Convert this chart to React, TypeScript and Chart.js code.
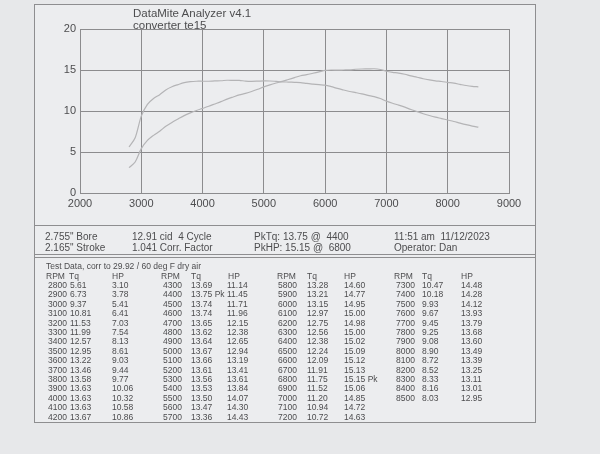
import React, { useEffect, useRef } from "react";
import { Chart, registerables } from "chart.js";

Chart.register(...registerables);

const rpm = [
  2800, 2900, 3000, 3100, 3200, 3300, 3400, 3500, 3600, 3700, 3800, 3900, 4000, 4100, 4200,
  4300, 4400, 4500, 4600, 4700, 4800, 4900, 5000, 5100, 5200, 5300, 5400, 5500, 5600, 5700,
  5800, 5900, 6000, 6100, 6200, 6300, 6400, 6500, 6600, 6700, 6800, 6900, 7000, 7100, 7200,
  7300, 7400, 7500, 7600, 7700, 7800, 7900, 8000, 8100, 8200, 8300, 8400, 8500,
];
const torque = [
  5.61, 6.73, 9.37, 10.81, 11.53, 11.99, 12.57, 12.95, 13.22, 13.46, 13.58, 13.63, 13.63, 13.63, 13.67,
  13.69, 13.75, 13.74, 13.74, 13.65, 13.62, 13.64, 13.67, 13.66, 13.61, 13.56, 13.53, 13.5, 13.47, 13.36,
  13.28, 13.21, 13.15, 12.97, 12.75, 12.56, 12.38, 12.24, 12.09, 11.91, 11.75, 11.52, 11.2, 10.94, 10.72,
  10.47, 10.18, 9.93, 9.67, 9.45, 9.25, 9.08, 8.9, 8.72, 8.52, 8.33, 8.16, 8.03,
];
const horsepower = [
  3.1, 3.78, 5.41, 6.41, 7.03, 7.54, 8.13, 8.61, 9.03, 9.44, 9.77, 10.06, 10.32, 10.58, 10.86,
  11.14, 11.45, 11.71, 11.96, 12.15, 12.38, 12.65, 12.94, 13.19, 13.41, 13.61, 13.84, 14.07, 14.3, 14.43,
  14.6, 14.77, 14.95, 15.0, 14.98, 15.0, 15.02, 15.09, 15.12, 15.13, 15.15, 15.06, 14.85, 14.72, 14.63,
  14.48, 14.28, 14.12, 13.93, 13.79, 13.68, 13.6, 13.49, 13.39, 13.25, 13.11, 13.01, 12.95,
];
const xTicks = [2000, 3000, 4000, 5000, 6000, 7000, 8000, 9000];
const yTicks = [0, 5, 10, 15, 20];

const titleLines = ["DataMite Analyzer v4.1", "converter te15"];
const infoCol1 = ['2.755" Bore', '2.165" Stroke'];
const infoCol2 = ["12.91 cid  4 Cycle", "1.041 Corr. Factor"];
const infoCol3 = ["PkTq: 13.75 @  4400", "PkHP: 15.15 @  6800"];
const infoCol4 = ["11:51 am  11/12/2023", "Operator: Dan"];
const tableCaption = "Test Data, corr to 29.92 / 60 deg F dry air";
const tableHeaders = ["RPM", "Tq", "HP"];
const groupSizes = [15, 15, 15, 13];

const FONT = '"Liberation Sans", Arial, sans-serif';
const INK = "#4d4d4f";
const GRID = "#8c8c8e";
const CURVE = "#b4b4b6";
const FRAME = "#8e8e90";

const colX = [
  [48, 70, 112],
  [163, 191, 227],
  [278, 307, 344],
  [396, 422, 461],
];
const headX = [
  [46, 69, 112],
  [161, 191, 228],
  [277, 307, 344],
  [394, 422, 461],
];

function fmt(v: number) {
  return v.toFixed(2);
}

export default function App() {
  const ref = useRef<HTMLCanvasElement | null>(null);

  useEffect(() => {
    if (!ref.current) return;
    const chart = new Chart(ref.current, {
      type: "line",
      data: {
        datasets: [
          {
            label: "Tq",
            data: rpm.map((r, i) => ({ x: r, y: torque[i] })),
            borderColor: CURVE,
            borderWidth: 1.2,
            pointRadius: 0,
            tension: 0.3,
            fill: false,
          },
          {
            label: "HP",
            data: rpm.map((r, i) => ({ x: r, y: horsepower[i] })),
            borderColor: CURVE,
            borderWidth: 1.2,
            pointRadius: 0,
            tension: 0.3,
            fill: false,
          },
        ],
      },
      options: {
        animation: false,
        responsive: false,
        layout: { padding: { left: 0, right: 91, top: 29, bottom: 0 } },
        plugins: { legend: { display: false }, tooltip: { enabled: false }, title: { display: false } },
        scales: {
          x: {
            type: "linear",
            min: xTicks[0],
            max: xTicks[xTicks.length - 1],
            afterBuildTicks: (s: any) => {
              s.ticks = xTicks.map((v) => ({ value: v }));
            },
            afterFit: (s: any) => {
              s.height = 261;
            },
            grid: { color: GRID, lineWidth: 1, drawTicks: false },
            border: { display: true, color: GRID },
            ticks: {
              color: INK,
              font: { family: FONT, size: 11 },
              padding: 4,
              maxRotation: 0,
              autoSkip: false,
              callback: (v: any) => String(v),
            },
          },
          y: {
            type: "linear",
            min: yTicks[0],
            max: yTicks[yTicks.length - 1],
            afterBuildTicks: (s: any) => {
              s.ticks = yTicks.map((v) => ({ value: v }));
            },
            afterFit: (s: any) => {
              s.width = 80;
            },
            grid: { color: GRID, lineWidth: 1, drawTicks: false },
            border: { display: true, color: GRID },
            ticks: {
              color: INK,
              font: { family: FONT, size: 11 },
              padding: 4,
              callback: (v: any) => String(v),
            },
          },
        },
      },
    });
    return () => chart.destroy();
  }, []);

  const groups: number[][] = [];
  let start = 0;
  for (const n of groupSizes) {
    const idx: number[] = [];
    for (let k = start; k < start + n; k++) idx.push(k);
    groups.push(idx);
    start += n;
  }
  const pkTq = torque.indexOf(Math.max(...torque));
  const pkHp = horsepower.indexOf(Math.max(...horsepower));

  const text = (
    content: string,
    x: number,
    y: number,
    size: number,
    key?: string
  ) => (
    <div
      key={key}
      style={{
        position: "absolute",
        left: x,
        top: y - size * 0.6,
        fontFamily: FONT,
        fontSize: size,
        lineHeight: `${size * 1.2}px`,
        color: INK,
        whiteSpace: "pre",
      }}
    >
      {content}
    </div>
  );

  const infoCols = [infoCol1, infoCol2, infoCol3, infoCol4];
  const infoX = [45, 132, 254, 394];

  return (
    <div
      style={{
        position: "absolute",
        left: 0,
        top: 0,
        width: 600,
        height: 454,
        background: "#e7e8ea",
        overflow: "hidden",
      }}
    >
      {/* paper frame */}
      <div
        style={{
          position: "absolute",
          left: 34,
          top: 4,
          width: 502,
          height: 419,
          background: "#ecedef",
          border: `1px solid ${FRAME}`,
          boxSizing: "border-box",
        }}
      />
      <div style={{ position: "absolute", left: 34, top: 225, width: 502, height: 1, background: FRAME }} />
      <div style={{ position: "absolute", left: 34, top: 254, width: 502, height: 1, background: FRAME }} />
      <div style={{ position: "absolute", left: 34, top: 257, width: 502, height: 1, background: FRAME }} />

      <canvas
        ref={ref}
        width={600}
        height={454}
        style={{ position: "absolute", left: 0, top: 0, width: 600, height: 454 }}
      />

      {text(titleLines[0], 133, 14, 11.5, "t0")}
      {text(titleLines[1], 133, 26, 11.5, "t1")}

      {infoCols.map((col, c) =>
        col.map((line, r) => text(line, infoX[c], r === 0 ? 237 : 248, 10, `i${c}${r}`))
      )}

      {text(tableCaption, 46, 266, 8.5, "cap")}
      {groups.map((idx, g) => (
        <React.Fragment key={`g${g}`}>
          {tableHeaders.map((h, c) => text(h, headX[g][c], 275.7, 8.5, `h${g}${c}`))}
          {idx.map((k, r) => {
            const y = 285.1 + r * 9.4;
            return (
              <React.Fragment key={`r${k}`}>
                {text(String(rpm[k]), colX[g][0], y, 8.5)}
                {text(fmt(torque[k]) + (k === pkTq ? " Pk" : ""), colX[g][1], y, 8.5)}
                {text(fmt(horsepower[k]) + (k === pkHp ? " Pk" : ""), colX[g][2], y, 8.5)}
              </React.Fragment>
            );
          })}
        </React.Fragment>
      ))}
    </div>
  );
}
